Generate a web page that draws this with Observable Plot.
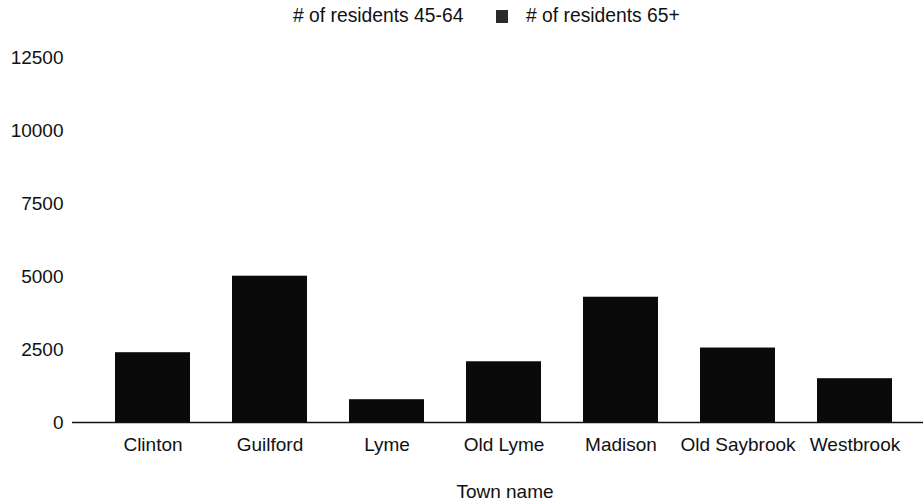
<!DOCTYPE html>
<html>
<head>
<meta charset="utf-8">
<script src="https://cdn.jsdelivr.net/npm/d3@7"></script>
<script src="https://cdn.jsdelivr.net/npm/@observablehq/plot@0.6"></script>
<style>
  html, body { margin: 0; padding: 0; background: #fff; }
  body { width: 923px; height: 502px; overflow: hidden; font-family: "Liberation Sans", Arial, sans-serif; color: #111; }
  #legend { position: relative; height: 32px; font-size: 19.3px; }
  .item { position: absolute; top: 0; height: 32px; display: flex; align-items: center; }
  .sw { width: 12px; height: 13px; margin-right: 18px; }
</style>
</head>
<body>
<div id="legend"></div>
<div id="chart"></div>
<script>
const towns = ["Clinton", "Guilford", "Lyme", "Old Lyme", "Madison", "Old Saybrook", "Westbrook"];
const residents65Plus = [2390, 5010, 780, 2080, 4290, 2550, 1500];
const seriesLabels = ["# of residents 45-64", "# of residents 65+"];
const seriesColors = ["#ffffff", "#0a0a0a"];
const legendSwatchColors = ["#ffffff", "#2a2a2a"];
const yTicks = [0, 2500, 5000, 7500, 10000, 12500];
const xTitle = "Town name";

const legend = document.getElementById("legend");
const legendLeft = [263, 496];
seriesLabels.forEach((lab, i) => {
  const it = document.createElement("div");
  it.className = "item";
  it.style.left = legendLeft[i] + "px";
  const sw = document.createElement("span");
  sw.className = "sw";
  sw.style.background = legendSwatchColors[i];
  const tx = document.createElement("span");
  tx.textContent = lab;
  it.appendChild(sw);
  it.appendChild(tx);
  legend.appendChild(it);
});

const data = towns.map((t, i) => ({town: t, value: residents65Plus[i], series: seriesLabels[1]}));

const chart = Plot.plot({
  width: 923,
  height: 470,
  marginTop: 25,
  marginBottom: 80,
  marginLeft: 72,
  marginRight: 0,
  style: {fontFamily: "'Liberation Sans', Arial, sans-serif", fontSize: "19px", color: "#111", background: "#fff"},
  x: {domain: towns, paddingInner: 0.359, paddingOuter: 0.316, align: 0.58, label: null, tickSize: 0, tickPadding: 15},
  y: {domain: [0, 12500], ticks: yTicks, tickSize: 0, tickPadding: 9, label: null, tickFormat: d => String(d)},
  marks: [
    Plot.barY(data, {x: "town", y: "value", fill: seriesColors[1]}),
    Plot.ruleY([0], {stroke: "#111", strokeWidth: 1.6}),
    Plot.text([xTitle], {frameAnchor: "bottom", lineAnchor: "bottom", dy: 75, dx: 7, fill: "#111"})
  ]
});
document.getElementById("chart").appendChild(chart);
</script>
</body>
</html>
